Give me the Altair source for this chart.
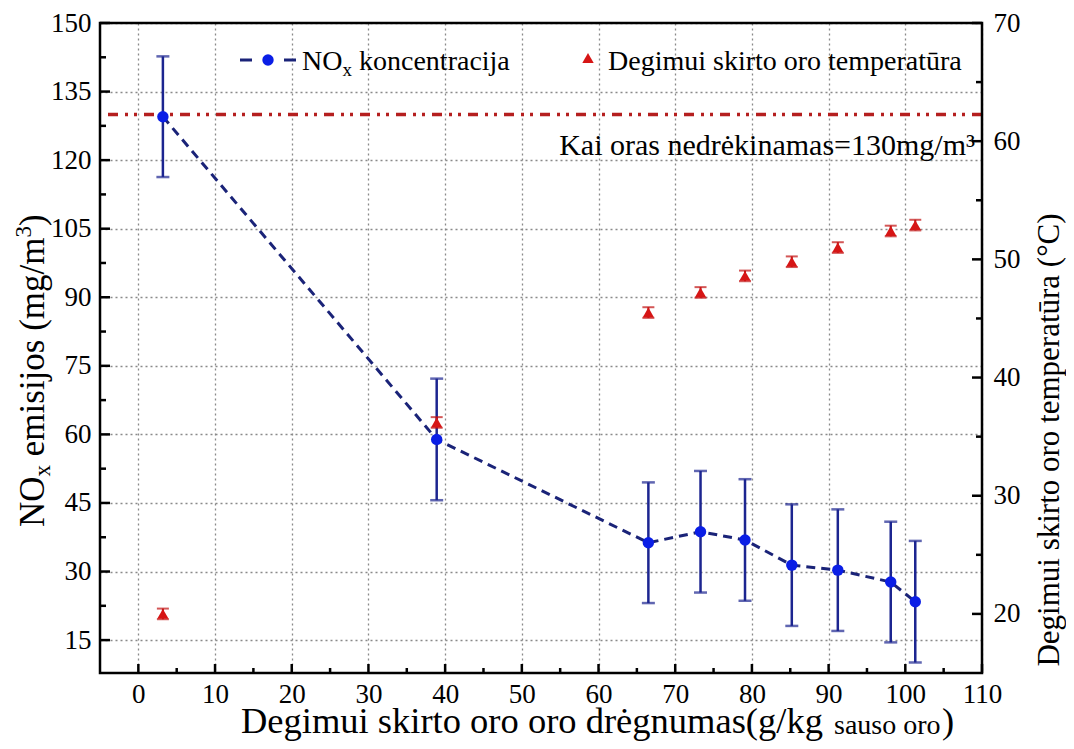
import altair as alt
import pandas as pd

# ---- data ----
humidity = [3.2, 38.9, 66.5, 73.3, 79.1, 85.2, 91.2, 98.1, 101.3]
nox = [129.5, 58.9, 36.3, 38.7, 36.9, 31.4, 30.3, 27.7, 23.4]
nox_err = [13.2, 13.3, 13.2, 13.3, 13.3, 13.3, 13.3, 13.2, 13.3]
temp = [20.0, 36.2, 45.5, 47.2, 48.6, 49.8, 51.0, 52.4, 52.9]
temp_err = [0.45, 0.45, 0.45, 0.45, 0.45, 0.45, 0.45, 0.45, 0.45]
reference_nox = [130]

x_ticks = [0, 10, 20, 30, 40, 50, 60, 70, 80, 90, 100, 110]
x_minor = [5, 15, 25, 35, 45, 55, 65, 75, 85, 95, 105]
left_ticks = [15, 30, 45, 60, 75, 90, 105, 120, 135, 150]
left_minor = [22.5, 37.5, 52.5, 67.5, 82.5, 97.5, 112.5, 127.5, 142.5]
right_ticks = [20, 30, 40, 50, 60, 70]
right_minor = [25, 35, 45, 55, 65]

W, H = 882, 650
FONT = "Liberation Serif, Times New Roman, serif"
NAVY = "#1a2378"
BAR = "#1c2590"
BLUE = "#0a1ee6"
RED = "#d61515"
REDBAR = "#c01010"
DARKRED = "#b51f1f"

x_scale = alt.Scale(domain=[-5, 110], nice=False, zero=False)
yl_scale = alt.Scale(domain=[7.8, 150], nice=False, zero=False)
yr_scale = alt.Scale(domain=[15, 70], nice=False, zero=False)

common = dict(title=None, ticks=False, domain=False, labelFont=FONT, labelFontSize=27,
              labelColor="black", labelFlush=False, labelOverlap=False)
x_axis = alt.Axis(values=x_ticks, grid=True, gridDash=[2, 3], gridColor="#8a8a8a",
                  gridWidth=1.3, labelPadding=8, **common)
yl_axis = alt.Axis(values=left_ticks, grid=True, gridDash=[2, 3], gridColor="#8a8a8a",
                   gridWidth=1.3, labelPadding=9, **common)
yr_axis = alt.Axis(orient="right", values=right_ticks, grid=False, labelPadding=11, **common)

df = pd.DataFrame({
    "h": humidity,
    "nox": nox,
    "lo": [v - e for v, e in zip(nox, nox_err)],
    "hi": [v + e for v, e in zip(nox, nox_err)],
    "t": temp,
    "tlo": [v - e for v, e in zip(temp, temp_err)],
    "thi": [v + e for v, e in zip(temp, temp_err)],
})

base = alt.Chart(df)
X = alt.X("h:Q", scale=x_scale, axis=x_axis)


def YL(f):
    return alt.Y(f, scale=yl_scale, axis=yl_axis)


def YR(f):
    return alt.Y(f, scale=yr_scale, axis=yr_axis)


hline = alt.Chart(pd.DataFrame({"ref": reference_nox})).mark_rule(
    color=DARKRED, strokeWidth=3.5, strokeDash=[10, 7, 3, 6, 3, 7]
).encode(y=YL("ref:Q"))

nox_line = base.mark_line(color=NAVY, strokeDash=[9, 6], strokeWidth=3).encode(x=X, y=YL("nox:Q"))
nox_err_rule = base.mark_rule(color=BAR, strokeWidth=2.5).encode(x=X, y=YL("lo:Q"), y2="hi:Q")
nox_cap_lo = base.mark_tick(orient="horizontal", size=13, thickness=2.5, color=BAR).encode(x=X, y=YL("lo:Q"))
nox_cap_hi = base.mark_tick(orient="horizontal", size=13, thickness=2.5, color=BAR).encode(x=X, y=YL("hi:Q"))
nox_pts = base.mark_circle(size=130, color=BLUE, opacity=1).encode(x=X, y=YL("nox:Q"))

xt = alt.Chart(pd.DataFrame({"v": x_ticks})).mark_rule(color="black", strokeWidth=2.5).encode(
    x=alt.X("v:Q", scale=x_scale, axis=x_axis), y=alt.value(H), y2=alt.value(H - 9))
xtm = alt.Chart(pd.DataFrame({"v": x_minor})).mark_rule(color="black", strokeWidth=2.5).encode(
    x=alt.X("v:Q", scale=x_scale, axis=x_axis), y=alt.value(H), y2=alt.value(H - 5))
lt = alt.Chart(pd.DataFrame({"v": left_ticks})).mark_rule(color="black", strokeWidth=2.5).encode(
    y=YL("v:Q"), x=alt.value(0), x2=alt.value(10))
ltm = alt.Chart(pd.DataFrame({"v": left_minor})).mark_rule(color="black", strokeWidth=2.5).encode(
    y=YL("v:Q"), x=alt.value(0), x2=alt.value(6))

left = alt.layer(hline, nox_line, nox_err_rule, nox_cap_lo, nox_cap_hi, nox_pts, xt, xtm, lt, ltm)

t_err = base.mark_rule(color=REDBAR, strokeWidth=2).encode(x=X, y=YR("tlo:Q"), y2="thi:Q")
t_cap_lo = base.mark_tick(orient="horizontal", size=12, thickness=2, color=REDBAR).encode(x=X, y=YR("tlo:Q"))
t_cap_hi = base.mark_tick(orient="horizontal", size=12, thickness=2, color=REDBAR).encode(x=X, y=YR("thi:Q"))
t_pts = base.mark_point(shape="triangle-up", filled=True, size=130, color=RED, opacity=1).encode(x=X, y=YR("t:Q"))
rt = alt.Chart(pd.DataFrame({"v": right_ticks})).mark_rule(color="black", strokeWidth=2.5).encode(
    y=YR("v:Q"), x=alt.value(W), x2=alt.value(W - 10))
rtm = alt.Chart(pd.DataFrame({"v": right_minor})).mark_rule(color="black", strokeWidth=2.5).encode(
    y=YR("v:Q"), x=alt.value(W), x2=alt.value(W - 6))

right = alt.layer(t_err, t_cap_lo, t_cap_hi, t_pts, rt, rtm)

# ---- annotations (text, legend, titles) ----
dummy = alt.Chart(pd.DataFrame({"a": [0]}))


def txt(s, x, y, size, align="left", angle=0, baseline="alphabetic"):
    kw = dict(text=s, font=FONT, fontSize=size, color="black", align=align, baseline=baseline)
    if angle:
        kw["angle"] = angle
    return dummy.mark_text(**kw).encode(x=alt.value(x), y=alt.value(y))


annots = []
# reference line label
annots.append(txt("Kai oras nedrėkinamas=130mg/m³", 875, 132, 30, align="right"))
# legend
annots.append(dummy.mark_rule(color=NAVY, strokeWidth=3).encode(x=alt.value(140), x2=alt.value(152), y=alt.value(37)))
annots.append(dummy.mark_rule(color=NAVY, strokeWidth=3).encode(x=alt.value(184), x2=alt.value(196), y=alt.value(37)))
annots.append(dummy.mark_circle(size=130, color=BLUE, opacity=1).encode(x=alt.value(168), y=alt.value(37)))
annots.append(txt("NO", 202, 47, 28))
annots.append(txt("x", 242.4, 53, 19))
annots.append(txt("koncentracija", 259, 47, 28))
annots.append(dummy.mark_point(shape="triangle-up", filled=True, size=130, color=RED, opacity=1).encode(
    x=alt.value(488), y=alt.value(35)))
annots.append(txt("Degimui skirto oro temperatūra", 508, 47, 28))

# left axis title (rotated, with sub/superscript)
F, FS = 35, 23
y0 = 504
bx = -56
w_no = 1.444 * F
w_x = 0.5 * FS
w_sp = 0.25 * F
w_mid = 6.251 * F
w_3 = 0.5 * FS
annots.append(txt("NO", bx, y0, F, angle=270))
annots.append(txt("x", bx + 6, y0 - w_no, FS, angle=270))
annots.append(txt("emisijos (mg/m", bx, y0 - w_no - w_x - w_sp, F, angle=270))
annots.append(txt("3", bx - 13, y0 - w_no - w_x - w_sp - w_mid, FS, angle=270))
annots.append(txt(")", bx, y0 - w_no - w_x - w_sp - w_mid - w_3, F, angle=270))

# right axis title
annots.append(txt("Degimui skirto oro temperatūra (°C)", 950, 417, 31, align="center", angle=270, baseline="middle"))

# x axis title with subscript
annots.append(txt("Degimui skirto oro oro drėgnumas(g/kg", 141, 710, 36.5))
annots.append(txt("sauso oro", 734, 711, 28))
annots.append(txt(")", 842, 710, 36.5))

# frame
frame = dummy.mark_rect(fillOpacity=0, stroke="black", strokeWidth=2.5).encode(
    x=alt.value(0), x2=alt.value(W), y=alt.value(0), y2=alt.value(H))

chart = alt.layer(left, right, frame, *annots).resolve_scale(y="independent").properties(
    width=W, height=H,
    padding={"left": 92, "top": 15, "right": 84, "bottom": 68},
    autosize=alt.AutoSizeParams(type="none"),
).configure_view(strokeWidth=0).configure(background="white")

chart.save("out.html", embed_options={"renderer": "svg", "actions": False})
